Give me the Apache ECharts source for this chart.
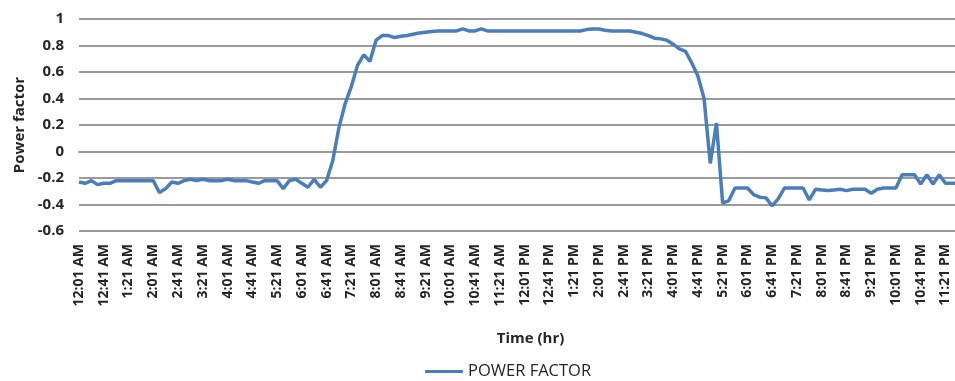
<!DOCTYPE html>
<html>
<head>
<meta charset="utf-8">
<script src="https://cdn.jsdelivr.net/npm/echarts@6/dist/echarts.min.js"></script>
<style>
  html, body { margin: 0; padding: 0; background: #fff; overflow: hidden; }
  #chart { width: 965px; height: 381px; }
</style>
</head>
<body>
<div id="chart"></div>
<script>
// Readings every 10 minutes over one day
const times = [
  '12:01 AM','12:11 AM','12:21 AM','12:31 AM','12:41 AM','12:51 AM',
  '1:01 AM','1:11 AM','1:21 AM','1:31 AM','1:41 AM','1:51 AM',
  '2:01 AM','2:11 AM','2:21 AM','2:31 AM','2:41 AM','2:51 AM',
  '3:01 AM','3:11 AM','3:21 AM','3:31 AM','3:41 AM','3:51 AM',
  '4:01 AM','4:11 AM','4:21 AM','4:31 AM','4:41 AM','4:51 AM',
  '5:01 AM','5:11 AM','5:21 AM','5:31 AM','5:41 AM','5:51 AM',
  '6:01 AM','6:11 AM','6:21 AM','6:31 AM','6:41 AM','6:51 AM',
  '7:01 AM','7:11 AM','7:21 AM','7:31 AM','7:41 AM','7:51 AM',
  '8:01 AM','8:11 AM','8:21 AM','8:31 AM','8:41 AM','8:51 AM',
  '9:01 AM','9:11 AM','9:21 AM','9:31 AM','9:41 AM','9:51 AM',
  '10:01 AM','10:11 AM','10:21 AM','10:31 AM','10:41 AM','10:51 AM',
  '11:01 AM','11:11 AM','11:21 AM','11:31 AM','11:41 AM','11:51 AM',
  '12:01 PM','12:11 PM','12:21 PM','12:31 PM','12:41 PM','12:51 PM',
  '1:01 PM','1:11 PM','1:21 PM','1:31 PM','1:41 PM','1:51 PM',
  '2:01 PM','2:11 PM','2:21 PM','2:31 PM','2:41 PM','2:51 PM',
  '3:01 PM','3:11 PM','3:21 PM','3:31 PM','3:41 PM','3:51 PM',
  '4:01 PM','4:11 PM','4:21 PM','4:31 PM','4:41 PM','4:51 PM',
  '5:01 PM','5:11 PM','5:21 PM','5:31 PM','5:41 PM','5:51 PM',
  '6:01 PM','6:11 PM','6:21 PM','6:31 PM','6:41 PM','6:51 PM',
  '7:01 PM','7:11 PM','7:21 PM','7:31 PM','7:41 PM','7:51 PM',
  '8:01 PM','8:11 PM','8:21 PM','8:31 PM','8:41 PM','8:51 PM',
  '9:01 PM','9:11 PM','9:21 PM','9:31 PM','9:41 PM','9:51 PM',
  '10:01 PM','10:11 PM','10:21 PM','10:31 PM','10:41 PM','10:51 PM',
  '11:01 PM','11:11 PM','11:21 PM','11:31 PM','11:41 PM','11:51 PM'
];

const powerFactor = [
  -0.23, -0.24, -0.22, -0.25, -0.24, -0.24,
  -0.22, -0.22, -0.22, -0.22, -0.22, -0.22,
  -0.22, -0.31, -0.28, -0.23, -0.24, -0.22,
  -0.21, -0.22, -0.21, -0.22, -0.22, -0.22,
  -0.21, -0.22, -0.22, -0.22, -0.23, -0.24,
  -0.22, -0.22, -0.22, -0.28, -0.22, -0.21,
  -0.24, -0.27, -0.21, -0.27, -0.22, -0.07,
  0.18, 0.36, 0.49, 0.65, 0.73, 0.68,
  0.84, 0.875, 0.875, 0.86, 0.87, 0.875,
  0.885, 0.895, 0.9, 0.905, 0.91, 0.91,
  0.91, 0.91, 0.925, 0.91, 0.91, 0.925,
  0.91, 0.91, 0.91, 0.91, 0.91, 0.91,
  0.91, 0.91, 0.91, 0.91, 0.91, 0.91,
  0.91, 0.91, 0.91, 0.91, 0.92, 0.925,
  0.925, 0.915, 0.91, 0.91, 0.91, 0.91,
  0.9, 0.89, 0.875, 0.855, 0.85, 0.84,
  0.81, 0.775, 0.755, 0.67, 0.57, 0.4,
  -0.09, 0.215, -0.39, -0.37, -0.275, -0.275,
  -0.275, -0.325, -0.345, -0.35, -0.41, -0.355,
  -0.275, -0.275, -0.275, -0.275, -0.365, -0.285,
  -0.29, -0.295, -0.29, -0.285, -0.295, -0.285,
  -0.285, -0.285, -0.315, -0.285, -0.275, -0.275,
  -0.275, -0.175, -0.175, -0.175, -0.245, -0.175,
  -0.245, -0.175, -0.24, -0.24, -0.24, -0.24
];

const yMin = -0.6;
const yMax = 1;
const yStep = 0.2;

const seriesName = 'POWER FACTOR';
const xTitle = 'Time (hr)';
const yTitle = 'Power factor';

const FONT = '"Open Sans", Lato, sans-serif';
const TEXT = '#262626';
const GRID = '#9a9a9a';

const chart = echarts.init(document.getElementById('chart'), null, { renderer: 'canvas' });

chart.setOption({
  animation: false,
  backgroundColor: '#ffffff',
  grid: { left: 79, right: 1, top: 19, bottom: 150, containLabel: false },
  legend: {
    data: [seriesName],
    left: 425,
    top: 363,
    padding: 0,
    icon: 'path://M0,0H40V3H0Z',
    itemWidth: 38,
    itemHeight: 3,
    textStyle: { fontFamily: FONT, fontSize: 16.5, color: TEXT }
  },
  xAxis: {
    type: 'category',
    data: times,
    boundaryGap: false,
    name: xTitle,
    nameLocation: 'middle',
    nameGap: 100,
    nameTextStyle: {
      fontFamily: FONT, fontSize: 15, fontWeight: 'bold', color: TEXT,
      padding: [0, 0, 0, 18]
    },
    axisLine: { show: true, lineStyle: { color: GRID, width: 2 } },
    axisTick: { show: false },
    axisLabel: {
      interval: 3,
      rotate: 90,
      margin: 13,
      fontFamily: FONT,
      fontSize: 14,
      fontWeight: 'bold',
      color: TEXT
    },
    splitLine: { show: false }
  },
  yAxis: {
    type: 'value',
    min: yMin,
    max: yMax,
    interval: yStep,
    name: yTitle,
    nameLocation: 'middle',
    nameGap: 50,
    nameRotate: 90,
    nameTextStyle: { fontFamily: FONT, fontSize: 15, fontWeight: 'bold', color: TEXT },
    axisLine: { show: false },
    axisTick: { show: false },
    axisLabel: {
      margin: 15,
      fontFamily: FONT,
      fontSize: 15,
      fontWeight: 'bold',
      color: TEXT,
      formatter: v => String(Number(v.toFixed(1)))
    },
    splitLine: { lineStyle: { color: GRID, width: 2 } }
  },
  series: [{
    name: seriesName,
    type: 'line',
    data: powerFactor,
    showSymbol: false,
    symbol: 'none',
    lineStyle: { color: '#4a7ebb', width: 3.5 },
    itemStyle: { color: '#4a7ebb' }
  }]
});
</script>
</body>
</html>
